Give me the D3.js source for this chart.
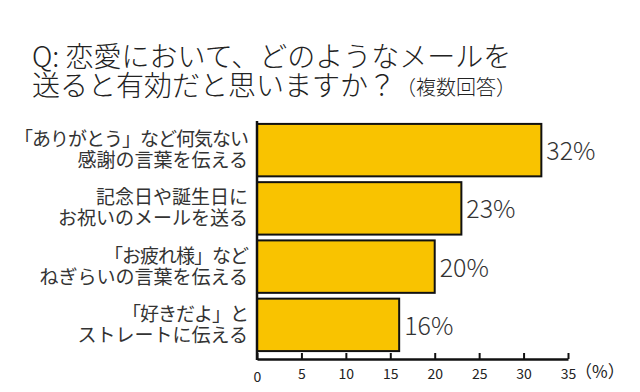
<!DOCTYPE html>
<html><head><meta charset="utf-8">
<script src="https://cdn.jsdelivr.net/npm/d3@7"></script>
<style>body{margin:0;background:#fff}svg{display:block}text{font-family:"Noto Sans CJK JP","Noto Sans",sans-serif}</style>
</head><body><svg id="c" width="640" height="392"></svg>
<script>
const titleLine1 = "Q: 恋愛において、どのようなメールを";
const titleLine2 = "送ると有効だと思いますか？";
const titleNote = "（複数回答）";
const categories = [
  ["「ありがとう」など何気ない", "感謝の言葉を伝える"],
  ["記念日や誕生日に", "お祝いのメールを送る"],
  ["「お疲れ様」など", "ねぎらいの言葉を伝える"],
  ["「好きだよ」と", "ストレートに伝える"]
];
const values = [32, 23, 20, 16];
const xTicks = [0, 5, 10, 15, 20, 25, 30, 35];
const unitLabel = "（%）";

const svg = d3.select("#c");
const x = d3.scaleLinear().domain([0, 35]).range([257, 568]);
const y = d3.scaleBand().domain(d3.range(values.length)).range([121, 354]).paddingInner(0.1).paddingOuter(0.05);

// title
const t = svg.append("text").attr("x", 32).attr("y", 67).attr("font-size", 28).attr("font-weight", 300).attr("fill", "#222");
t.text(titleLine1);
const t2 = svg.append("text").attr("x", 32).attr("y", 96).attr("fill", "#222").attr("font-weight", 300);
t2.append("tspan").attr("font-size", 28).text(titleLine2);
t2.append("tspan").attr("font-size", 20).attr("dy", -1).text(titleNote);

// bars
svg.selectAll("rect.bar").data(values).join("rect")
  .attr("class", "bar")
  .attr("x", x(0)).attr("y", (d, i) => y(i))
  .attr("width", d => x(d) - x(0)).attr("height", y.bandwidth())
  .attr("fill", "#F9C300").attr("stroke", "#111").attr("stroke-width", 2);

// value labels
svg.selectAll("text.val").data(values).join("text")
  .attr("class", "val")
  .attr("x", d => x(d) + 5).attr("y", (d, i) => y(i) + y.bandwidth() / 2 + 10)
  .attr("font-size", 25).attr("font-weight", 200).attr("fill", "#333").attr("font-family", "DejaVu Sans, sans-serif")
  .text(d => d + "%");

// category labels
const cl = svg.selectAll("text.cat").data(categories).join("text")
  .attr("class", "cat").attr("text-anchor", "end").attr("font-size", 19).attr("fill", "#333");
cl.each(function(d, i) {
  const cy = y(i) + y.bandwidth() / 2;
  d3.select(this).selectAll("tspan").data(d).join("tspan")
    .attr("x", 248).attr("y", (s, j) => cy - 4 + j * 21)
    .attr("letter-spacing", (s) => s.includes("「") ? -1 : 0)
    .text(s => s);
});

// x axis
const ax = svg.append("g").attr("transform", "translate(0,359)")
  .call(d3.axisBottom(x).tickValues(xTicks).tickSizeInner(-6).tickSizeOuter(0).tickPadding(9));
ax.select(".domain").attr("stroke", "#111").attr("stroke-width", 2.5);
ax.selectAll(".tick line").attr("stroke", "#111").attr("stroke-width", 2);
ax.selectAll(".tick text").attr("font-size", 14).attr("fill", "#222").attr("font-family", "Liberation Sans, Arial, sans-serif")
  .attr("dy", (d) => d === 0 ? "1.0em" : "0.8em");

// y axis line
svg.append("line").attr("x1", x(0)).attr("x2", x(0)).attr("y1", 121).attr("y2", 360)
  .attr("stroke", "#111").attr("stroke-width", 2.5);

svg.append("text").attr("x", 575).attr("y", 378).attr("font-size", 17).attr("fill", "#222").text(unitLabel);
</script></body></html>
